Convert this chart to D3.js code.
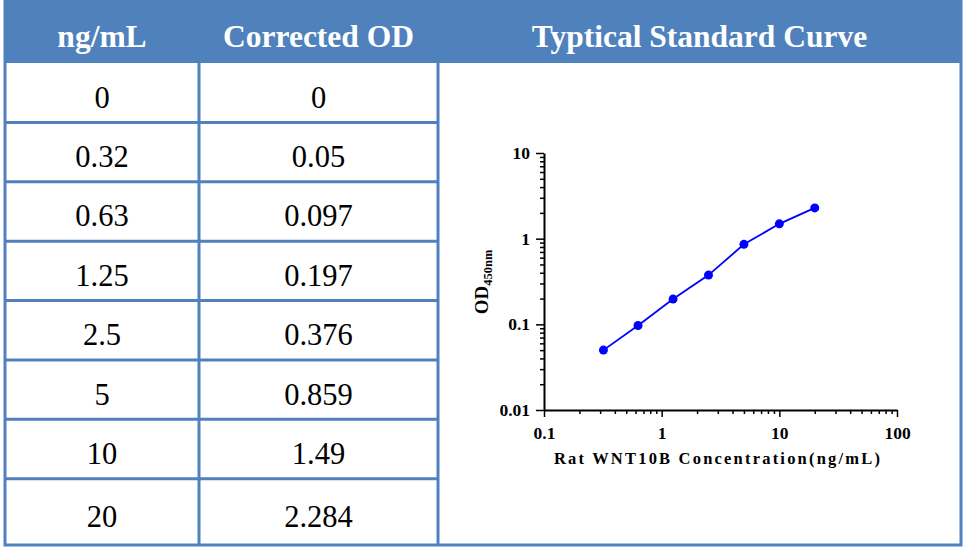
<!DOCTYPE html>
<html>
<head>
<meta charset="utf-8">
<script src="https://cdn.jsdelivr.net/npm/d3@7"></script>
<style>
    body { margin: 0; background: #fff; }
    svg { display: block; }
</style>
</head>
<body>
<div id="chart"></div>
<script>
// table + curve data
const concentrations = [0, 0.32, 0.63, 1.25, 2.5, 5, 10, 20];
const correctedOD = [0, 0.05, 0.097, 0.197, 0.376, 0.859, 1.49, 2.284];
const headers = ["ng/mL", "Corrected OD", "Typtical Standard Curve"];
const xTickValues = [0.1, 1, 10, 100];
const yTickValues = [0.01, 0.1, 1, 10];

const BLUE = "#4F81BD";
const LINE_COLOR = "#0000FF";
const SERIF = "'Liberation Serif', 'Times New Roman', serif";

const W = 964, H = 547;
const tbl = { left: 5, top: 1, right: 961, bottom: 545, header: 63 };
const colEdges = [tbl.left, 199, 438, tbl.right];

const svg = d3.select("#chart")
    .append("svg")
    .attr("width", W)
    .attr("height", H);

// header band
svg.append("rect")
    .attr("x", tbl.left)
    .attr("y", tbl.top)
    .attr("width", tbl.right - tbl.left)
    .attr("height", tbl.header - tbl.top)
    .attr("fill", BLUE);

svg.selectAll("text.header")
    .data(headers)
    .join("text")
    .attr("class", "header")
    .attr("x", (d, i) => (colEdges[i] + colEdges[i + 1]) / 2)
    .attr("y", 47)
    .attr("text-anchor", "middle")
    .attr("font-family", SERIF)
    .attr("font-weight", "bold")
    .attr("font-size", 31.5)
    .attr("fill", "#fff")
    .text(d => d);

// rows
const rowIdx = d3.range(concentrations.length);
const rowY = d3.scaleBand()
    .domain(rowIdx)
    .range([tbl.header, 538]);

const rowTop = i => rowY(i);
const rowBottom = i => i === rowIdx.length - 1 ? tbl.bottom : rowY(i) + rowY.bandwidth();

const cells = svg.append("g").attr("class", "cells");
[concentrations, correctedOD].forEach((col, c) => {
    cells.selectAll("text.c" + c)
        .data(col)
        .join("text")
        .attr("class", "c" + c)
        .attr("x", (colEdges[c] + colEdges[c + 1]) / 2)
        .attr("y", (d, i) => (rowTop(i) + rowBottom(i)) / 2 + 15)
        .attr("text-anchor", "middle")
        .attr("font-family", SERIF)
        .attr("font-size", 30.5)
        .attr("fill", "#000")
        .text(d => String(d));
});

// grid lines
const grid = svg.append("g")
    .attr("stroke", BLUE)
    .attr("stroke-width", 3)
    .attr("fill", "none");

grid.selectAll("line.row")
    .data(rowIdx.slice(0, -1))
    .join("line")
    .attr("class", "row")
    .attr("x1", tbl.left)
    .attr("x2", colEdges[2])
    .attr("y1", d => rowBottom(d))
    .attr("y2", d => rowBottom(d));

grid.selectAll("line.col")
    .data(colEdges.slice(1, 3))
    .join("line")
    .attr("class", "col")
    .attr("x1", d => d)
    .attr("x2", d => d)
    .attr("y1", tbl.top)
    .attr("y2", tbl.bottom);

grid.append("rect")
    .attr("x", tbl.left)
    .attr("y", tbl.top)
    .attr("width", tbl.right - tbl.left)
    .attr("height", tbl.bottom - tbl.top);

// ---- standard curve ----
const x = d3.scaleLog().domain([0.1, 100]).range([544, 897]);
const y = d3.scaleLog().domain([0.01, 10]).range([410, 153]);

function minorTicks(lo, hi) {
    const out = [];
    for (let p = lo; p < hi; p *= 10)
        for (let k = 2; k <= 9; k++) out.push(p * k);
    return out;
}

const fmt = d => String(+d.toPrecision(1));

const plot = svg.append("g").attr("class", "plot");

const xAxis = d3.axisBottom(x)
    .tickValues(xTickValues)
    .tickSize(7)
    .tickSizeOuter(0)
    .tickPadding(10)
    .tickFormat(fmt);

const yAxis = d3.axisLeft(y)
    .tickValues(yTickValues)
    .tickSize(8)
    .tickSizeOuter(0)
    .tickPadding(6)
    .tickFormat(fmt);

const gx = plot.append("g")
    .attr("transform", "translate(0," + y.range()[0] + ")")
    .call(xAxis);
gx.append("g")
    .call(d3.axisBottom(x).tickValues(minorTicks(0.1, 100)).tickSize(4).tickFormat(""))
    .select(".domain").remove();

const gy = plot.append("g")
    .attr("transform", "translate(" + x.range()[0] + ",0)")
    .call(yAxis);
gy.append("g")
    .call(d3.axisLeft(y).tickValues(minorTicks(0.01, 10)).tickSize(4).tickFormat(""))
    .select(".domain").remove();

[gx, gy].forEach(g => {
    g.selectAll(".domain").attr("stroke", "#000").attr("stroke-width", 2);
    g.selectAll(".tick line").attr("stroke", "#000").attr("stroke-width", 1.5);
    g.selectAll(".tick text")
        .attr("fill", "#000")
        .attr("font-family", SERIF)
        .attr("font-weight", "bold")
        .attr("font-size", 17.5);
});

// axis titles
plot.append("text")
    .attr("x", 718)
    .attr("y", 464)
    .attr("text-anchor", "middle")
    .attr("font-family", SERIF)
    .attr("font-weight", "bold")
    .attr("font-size", 16.5)
    .attr("letter-spacing", 2.2)
    .text("Rat WNT10B Concentration(ng/mL)");

const yTitle = plot.append("text")
    .attr("transform", "translate(488,282) rotate(-90)")
    .attr("text-anchor", "middle")
    .attr("font-family", SERIF)
    .attr("font-weight", "bold")
    .attr("font-size", 19);
yTitle.append("tspan").text("OD");
yTitle.append("tspan")
    .attr("font-size", 12.5)
    .attr("dy", 4)
    .text("450nm");

// curve (zero standard is not drawn on log axes)
const pts = concentrations
    .map((c, i) => ({ c: c, od: correctedOD[i] }))
    .filter(d => d.c > 0 && d.od > 0);

plot.append("path")
    .datum(pts)
    .attr("fill", "none")
    .attr("stroke", LINE_COLOR)
    .attr("stroke-width", 1.8)
    .attr("d", d3.line().x(d => x(d.c)).y(d => y(d.od)));

plot.selectAll("circle.pt")
    .data(pts)
    .join("circle")
    .attr("class", "pt")
    .attr("cx", d => x(d.c))
    .attr("cy", d => y(d.od))
    .attr("r", 4.5)
    .attr("fill", LINE_COLOR);
</script>
</body>
</html>
